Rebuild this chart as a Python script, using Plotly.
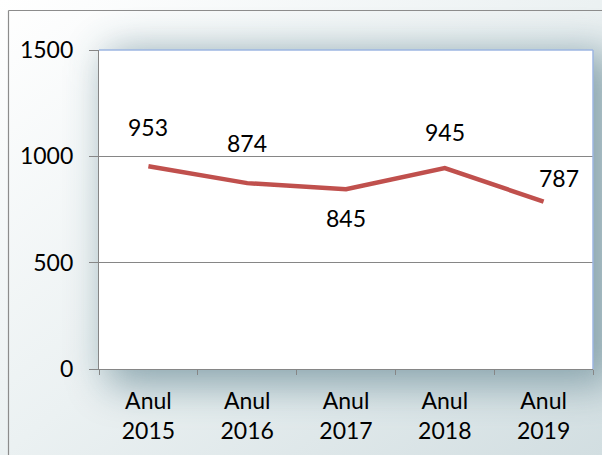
import base64
import plotly.graph_objects as go

categories = ["Anul<br>2015", "Anul<br>2016", "Anul<br>2017", "Anul<br>2018", "Anul<br>2019"]
values = [953, 874, 845, 945, 787]
y_ticks = [0, 500, 1000, 1500]

W, H = 602, 455
L, R, T, B = 99, 593, 50, 369
pw, ph = R - L, B - T

svg = f"""<svg xmlns='http://www.w3.org/2000/svg' width='{W}' height='{H}' viewBox='0 0 {W} {H}'>
<defs>
<linearGradient id='g' x1='0' y1='0' x2='1' y2='1'>
<stop offset='0' stop-color='#ffffff'/><stop offset='0.5' stop-color='#ebf1f2'/><stop offset='1' stop-color='#d2dee1'/>
</linearGradient>
<filter id='b' x='-30%' y='-30%' width='160%' height='160%'><feGaussianBlur stdDeviation='20'/></filter>
</defs>
<rect x='0' y='0' width='{W}' height='{H}' fill='url(#g)'/>
<rect x='{L+8}' y='{T+2}' width='{pw+12}' height='{ph+14}' fill='#7f9ca6' opacity='0.9' filter='url(#b)'/>
<rect x='{L}' y='{T}' width='{pw}' height='{ph}' fill='#ffffff'/>
<line x1='8.5' y1='10.5' x2='{W}' y2='10.5' stroke='#8c8c8c' stroke-width='1.2'/>
<line x1='8.5' y1='10.5' x2='8.5' y2='{H}' stroke='#8c8c8c' stroke-width='1.2'/>
</svg>"""
src = "data:image/svg+xml;base64," + base64.b64encode(svg.encode()).decode()

font = dict(family="Lato, 'Open Sans', sans-serif", size=23, color="#000000")

fig = go.Figure()
fig.add_trace(go.Scatter(
    x=categories, y=values, mode="lines",
    line=dict(color="#C0504D", width=4.5),
    hoverinfo="skip", showlegend=False,
))

shifts = [(0, 39), (0, 40), (0, -29), (0, 36), (15, 24)]
for c, v, (dx, dy) in zip(categories, values, shifts):
    fig.add_annotation(x=c, y=v, text=str(v), showarrow=False,
                       xshift=dx, yshift=dy, font=font)

fig.add_layout_image(dict(
    source=src, xref="paper", yref="paper",
    x=-L / pw, y=1 + T / ph, xanchor="left", yanchor="top",
    sizex=W / pw, sizey=H / ph, sizing="stretch", layer="below",
))

# plot-area border (top and right) in light blue
fig.add_shape(type="line", xref="paper", yref="paper", x0=0, x1=1, y0=1, y1=1,
              line=dict(color="#9db6e2", width=1.5))
fig.add_shape(type="line", xref="paper", yref="paper", x0=1, x1=1, y0=0, y1=1,
              line=dict(color="#9db6e2", width=1.5))

fig.update_layout(
    width=W, height=H,
    margin=dict(l=L, r=W - R, t=T, b=H - B, pad=0, autoexpand=False),
    paper_bgcolor="rgba(0,0,0,0)",
    plot_bgcolor="rgba(0,0,0,0)",
    font=font,
)
fig.update_xaxes(
    type="category", range=[-0.5, len(categories) - 0.5],
    showgrid=False, showline=True, linecolor="#868686", linewidth=1.3,
    ticks="outside", tickson="boundaries", ticklen=5, tickcolor="#868686",
    ticklabelstandoff=11,
    tickfont=font, zeroline=False, fixedrange=True, automargin=False,
)
fig.update_yaxes(
    range=[0, 1500], tickvals=y_ticks, showgrid=True, gridcolor="#868686", gridwidth=1,
    showline=True, linecolor="#868686", linewidth=1.3,
    ticks="outside", ticklen=9, tickcolor="#868686", ticklabelstandoff=11,
    tickfont=font, zeroline=False, fixedrange=True, automargin=False,
)

fig.write_html(
    "out.html",
    config={"displayModeBar": False},
    post_script="document.body.style.margin='0';document.body.style.padding='0';",
)
